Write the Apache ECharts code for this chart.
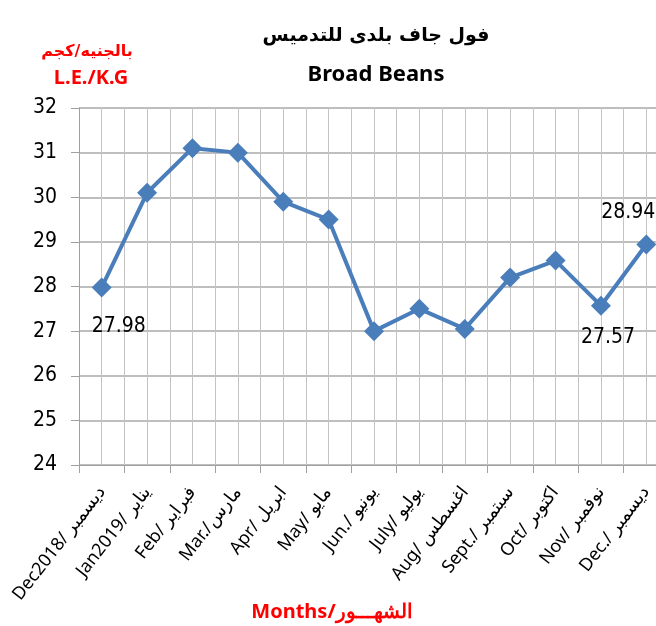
<!DOCTYPE html>
<html>
<head>
<meta charset="utf-8">
<script src="https://cdn.jsdelivr.net/npm/echarts@6/dist/echarts.min.js"></script>
<style>
  html, body { margin: 0; padding: 0; background: #fff; }
  #chart { width: 656px; height: 626px; }
</style>
</head>
<body>
<div id="chart"></div>
<script>
// months (English / Arabic)
const months = [
  'Dec2018/ ديسمبر', 'Jan2019/ يناير', 'Feb/ فبراير', 'Mar./مارس', 'Apr/ ابريل', 'May/ مايو',
  'Jun./ يونيو', 'July/ يوليو', 'Aug/ اغسطس', 'Sept./ سبتمبر', 'Oct/ اكتوبر', 'Nov/ نوفمبر', 'Dec./ ديسمبر'
]
// price L.E./K.G
const prices = [27.98, 30.1, 31.1, 31.0, 29.9, 29.5, 27.0, 27.5, 27.05, 28.2, 28.58, 27.57, 28.94]
// which points get a value label
const labelled = { 0: 'bottom', 11: 'bottom', 12: 'top' }
// half-month grid (vertical lines at every half category)
const halfSteps = Array(26).fill('')

const numFont = "'DejaVu Sans Condensed', 'Noto Sans', sans-serif"
const font = "'Noto Sans', sans-serif"
const arabicFont = "'DejaVu Sans', sans-serif"
const labelTweak = {
  0: { distance: 19, offset: [17, 0] },
  11: { distance: 11, offset: [7, 0] },
  12: { distance: 12, offset: [-18, 0] }
}

const chart = echarts.init(document.getElementById('chart'))

chart.setOption({
  animation: false,
  textStyle: { fontFamily: font },
  // the plot runs past the right edge of the picture, as in the original
  grid: { left: 79, top: 108, width: 590, bottom: 161, containLabel: false, outerBoundsMode: 'none' },
  graphic: [
    {
      type: 'text', x: 376, y: 36,
      style: { text: 'فول جاف بلدى للتدميس', font: 'bold 19px ' + arabicFont, fill: '#000', align: 'center', verticalAlign: 'middle' }
    },
    {
      type: 'text', x: 376, y: 75,
      style: { text: 'Broad Beans', font: 'bold 22px ' + font, fill: '#000', align: 'center', verticalAlign: 'middle' }
    },
    {
      type: 'text', x: 87, y: 52,
      style: { text: 'بالجنيه/كجم', font: 'bold 16px ' + arabicFont, fill: '#ff0000', align: 'center', verticalAlign: 'middle' }
    },
    {
      type: 'text', x: 91, y: 78,
      style: { text: 'L.E./K.G', font: 'bold 20px ' + font, fill: '#ff0000', align: 'center', verticalAlign: 'middle' }
    },
    {
      type: 'text', x: 332, y: 612,
      style: { text: 'Months/الشهـــور', font: 'bold 20px ' + font, fill: '#ff0000', align: 'center', verticalAlign: 'middle' }
    }
  ],
  xAxis: [
    {
      type: 'category',
      data: months,
      boundaryGap: true,
      axisLine: { lineStyle: { color: '#a0a0a0', width: 1 } },
      axisTick: { show: true, length: 8, lineStyle: { color: '#a0a0a0' } },
      axisLabel: { rotate: 52, margin: 24, color: '#000', fontSize: 18, fontFamily: font, interval: 0 },
      splitLine: { show: false }
    },
    {
      type: 'category',
      data: halfSteps,
      boundaryGap: true,
      position: 'bottom',
      axisLine: { show: false },
      axisTick: { show: false },
      axisLabel: { show: false },
      splitLine: { show: true, lineStyle: { color: '#c4c4c4', width: 1 } }
    }
  ],
  yAxis: {
    type: 'value',
    min: 24,
    max: 32,
    interval: 1,
    axisLine: { show: true, lineStyle: { color: '#a0a0a0' } },
    axisTick: { show: true, length: 8, lineStyle: { color: '#a0a0a0' } },
    axisLabel: { color: '#000', fontSize: 21, margin: 22, fontFamily: numFont },
    splitLine: { show: true, lineStyle: { color: '#a8a8a8', width: 1.5 } }
  },
  series: [
    {
      type: 'line',
      xAxisIndex: 0,
      data: prices.map((v, i) => {
        const pos = labelled[i]
        if (!pos) return v
        return {
          value: v,
          label: {
            show: true,
            position: pos,
            distance: labelTweak[i].distance,
            offset: labelTweak[i].offset,
            color: '#000',
            fontSize: 21,
            fontFamily: numFont,
            formatter: (p) => p.value.toFixed(2)
          }
        }
      }),
      symbol: 'diamond',
      symbolSize: 20,
      lineStyle: { color: '#4a7ebb', width: 4 },
      itemStyle: { color: '#4a7ebb' },
      z: 5
    }
  ]
})
</script>
</body>
</html>
